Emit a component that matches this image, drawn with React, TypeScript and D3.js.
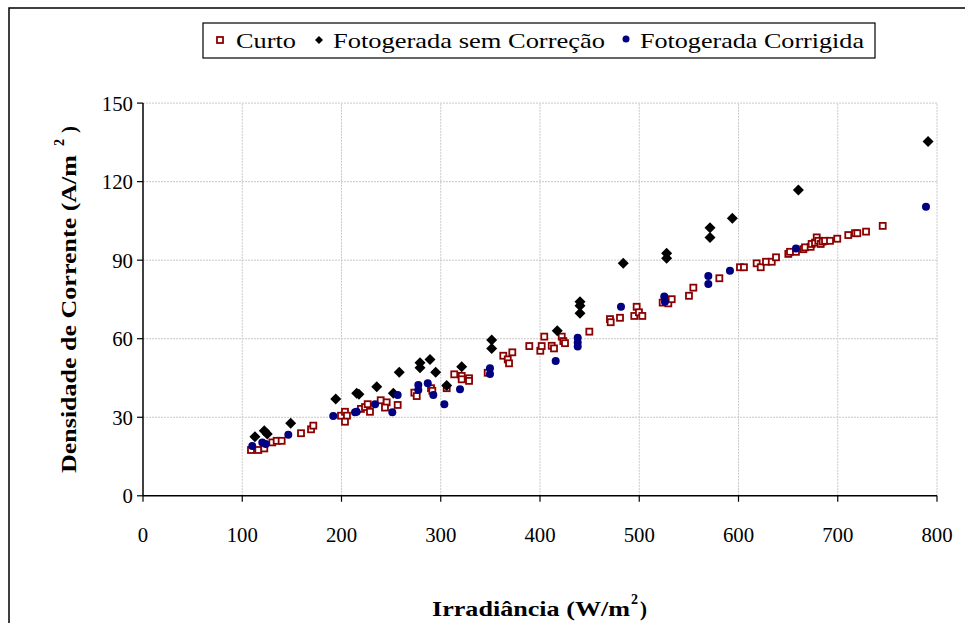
import React from "react";
import * as d3 from "d3";

const curtoX = [108.8,116.2,122.2,130.3,134.7,139.7,159.2,169.3,171.6,199.5,203.5,205.5,203.5,219.6,223.7,226.4,228.7,239.5,245.5,243.8,256.6,273.4,275.8,290.2,291.5,306.0,313.6,321.1,321.1,328.5,328.5,347.3,363.0,367.5,368.8,372.1,389.2,400.3,401.7,404.3,411.8,414.1,421.9,423.5,425.2,449.7,470.5,471.2,480.6,497.4,495.0,499.7,503.1,523.6,529.3,532.7,550.1,554.5,580.7,601.5,605.5,618.3,622.4,627.7,633.5,637.8,650.2,651.9,657.9,665.3,667.0,672.7,673.7,677.1,678.8,680.4,682.8,684.8,687.2,692.2,699.5,710.6,717.4,719.7,728.5,745.3];
const curtoY = [17.5,17.5,18.1,20.4,21.0,21.0,23.9,25.4,26.8,30.6,32.1,30.6,28.3,33.2,33.9,35.0,32.1,36.5,35.7,33.7,34.7,39.4,38.1,41.1,40.1,41.1,46.4,45.8,44.5,44.9,43.9,47.0,53.5,52.1,50.6,54.8,57.2,55.4,57.2,60.8,57.3,56.3,60.8,59.1,58.3,62.7,67.5,66.3,68.0,72.2,68.7,70.1,68.7,73.8,73.5,75.1,76.4,79.5,83.1,87.3,87.3,88.8,87.3,89.4,89.4,91.1,92.4,93.2,93.2,94.2,94.9,95.1,96.2,96.7,98.7,97.4,96.2,97.1,97.4,97.4,98.2,99.6,100.3,100.3,100.9,103.1];

const semX = [112.8,122.2,125.2,148.8,194.2,215.3,217.6,235.5,252.2,258.2,279.1,279.1,289.2,294.9,306.0,321.1,351.3,351.3,417.4,440.3,440.3,440.3,483.9,527.6,527.6,571.3,571.3,593.8,660.3,791.0];
const semY = [22.6,24.8,23.6,27.7,37.0,39.2,38.8,41.7,39.2,47.2,50.8,48.9,52.1,47.2,42.1,49.3,59.5,56.3,63.0,74.1,72.6,69.7,88.8,92.6,90.7,102.4,98.7,106.0,116.8,135.3];

const corrX = [110.1,120.2,123.6,146.4,191.7,213.6,215.3,233.8,251.2,256.6,277.4,277.4,286.9,292.5,303.6,319.4,349.6,349.6,415.8,438.0,438.0,438.0,481.6,525.2,525.9,569.6,569.6,591.4,657.9,788.9];
const corrY = [19.0,20.4,19.8,23.3,30.5,31.9,32.1,35.0,31.9,38.5,42.3,40.4,43.0,38.5,35.0,40.7,48.7,46.5,51.5,60.4,58.6,57.0,72.2,76.1,74.1,84.0,80.9,86.0,94.5,110.4];

const xTicks = [0,100,200,300,400,500,600,700,800];
const yTicks = [0,30,60,90,120,150];
const seriesNames = ["Curto","Fotogerada sem Correção","Fotogerada Corrigida"];
const xTitle = "Irradiância (W/m";
const yTitle = "Densidade de Corrente (A/m";

const FONT = "'Times New Roman', 'Liberation Serif', 'DejaVu Serif', serif";
const RED = "#8B0000";
const NAVY = "#000080";

const diamondPath = (r: number) => `M0,${-r}L${r},0L0,${r}L${-r},0Z`;

export default function App() {
  const x = d3.scaleLinear().domain([0, 800]).range([143, 937]);
  const y = d3.scaleLinear().domain([0, 150]).range([495.8, 103.1]);
  const ts = { fontFamily: FONT };
  const fit = { lengthAdjust: "spacingAndGlyphs" as const };

  return (
    <svg width={965} height={623} style={{ position: "absolute", left: 0, top: 0, background: "#fff", fontFamily: FONT }}>
      <rect x={0} y={0} width={965} height={623} fill="#fff" />
      <rect x={9} y={8} width={970} height={640} fill="none" stroke="#000" strokeWidth={1.5} />
      {xTicks.slice(1).map((t) => (
        <line key={"gx" + t} x1={x(t)} x2={x(t)} y1={y(0)} y2={y(150)} stroke="#c8c8c8" strokeWidth={1} strokeDasharray="2,1" />
      ))}
      {yTicks.slice(1).map((t) => (
        <line key={"gy" + t} x1={x(0)} x2={x(800)} y1={y(t)} y2={y(t)} stroke="#c8c8c8" strokeWidth={1} strokeDasharray="2,1" />
      ))}
      <line x1={x(0)} x2={x(0)} y1={y(0)} y2={y(150)} stroke="#000" strokeWidth={1.5} />
      <line x1={x(0)} x2={x(800)} y1={y(0)} y2={y(0)} stroke="#000" strokeWidth={1.5} />
      {yTicks.map((t) => (
        <g key={"yt" + t}>
          <line x1={x(0) - 6} x2={x(0)} y1={y(t)} y2={y(t)} stroke="#000" strokeWidth={1.2} />
          <text x={x(0) - 10} y={y(t)} dy="0.36em" textAnchor="end" fontSize={21} style={ts}
            textLength={String(t).length * 10.4} {...fit}>{t}</text>
        </g>
      ))}
      {xTicks.map((t) => (
        <g key={"xt" + t}>
          <line x1={x(t)} x2={x(t)} y1={y(0)} y2={y(0) + 6} stroke="#000" strokeWidth={1.2} />
          <text x={x(t)} y={542} textAnchor="middle" fontSize={21} style={ts}
            textLength={String(t).length * 10.4} {...fit}>{t}</text>
        </g>
      ))}
      {/* x title */}
      <text x={432} y={616} fontSize={21} fontWeight="bold" style={ts} textLength={198} {...fit}>{xTitle}</text>
      <text x={631} y={604} fontSize={14} fontWeight="bold" style={ts} textLength={7} {...fit}>2</text>
      <text x={640} y={616} fontSize={21} fontWeight="bold" style={ts} textLength={7} {...fit}>)</text>
      {/* y title */}
      <g transform="translate(76,473) rotate(-90)">
        <text x={0} y={0} fontSize={21} fontWeight="bold" style={ts} textLength={318} {...fit}>{yTitle}</text>
        <text x={327} y={-12} fontSize={14} fontWeight="bold" style={ts} textLength={7} {...fit}>2</text>
        <text x={340} y={0} fontSize={21} fontWeight="bold" style={ts} textLength={7} {...fit}>)</text>
      </g>
      {curtoX.map((v, i) => (
        <rect key={"c" + i} x={x(v) - 3} y={y(curtoY[i]) - 3} width={6} height={6} fill="#fff" stroke={RED} strokeWidth={1.8} />
      ))}
      {semX.map((v, i) => (
        <path key={"s" + i} d={diamondPath(5.5)} transform={`translate(${x(v)},${y(semY[i])})`} fill="#000" />
      ))}
      {corrX.map((v, i) => (
        <circle key={"k" + i} cx={x(v)} cy={y(corrY[i])} r={4} fill={NAVY} />
      ))}
      <rect x={203} y={23} width={672} height={35} fill="#fff" stroke="#000" strokeWidth={1.2} />
      <rect x={217} y={37} width={6} height={6} fill="#fff" stroke={RED} strokeWidth={1.8} />
      <text x={236} y={48} fontSize={21} style={ts} textLength={60} {...fit}>{seriesNames[0]}</text>
      <path d={diamondPath(4)} transform="translate(319,40)" fill="#000" />
      <text x={333} y={48} fontSize={21} style={ts} textLength={272} {...fit}>{seriesNames[1]}</text>
      <circle cx={626} cy={39} r={3.5} fill={NAVY} />
      <text x={640} y={48} fontSize={21} style={ts} textLength={224} {...fit}>{seriesNames[2]}</text>
    </svg>
  );
}
